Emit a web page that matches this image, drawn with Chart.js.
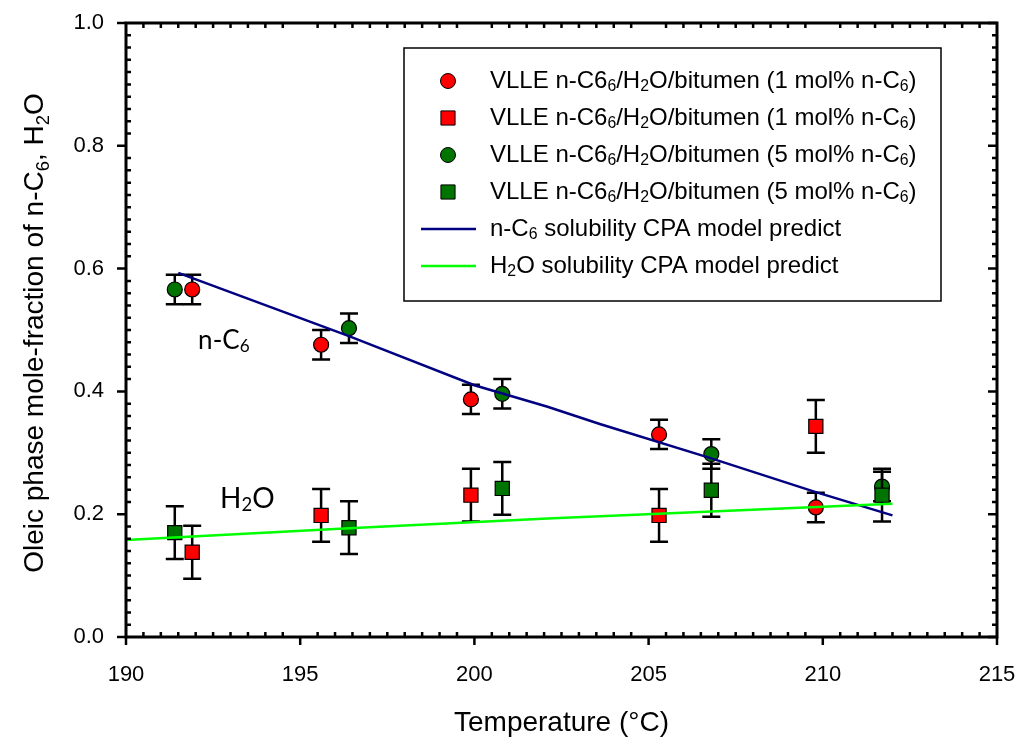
<!DOCTYPE html>
<html>
<head>
<meta charset="utf-8">
<script src="https://cdn.jsdelivr.net/npm/chart.js@4.4.1/dist/chart.umd.min.js"></script>
<style>
  html, body { margin: 0; padding: 0; background: #fff; }
  #wrap { width: 1018px; height: 742px; }
</style>
</head>
<body>
<div id="wrap"><canvas id="solChart" width="1018" height="742"></canvas></div>
<script>
// temperatures (°C) of the two runs
var tempRed = [191.9, 195.6, 199.9, 205.3, 209.8];
var tempGreen = [191.4, 196.4, 200.8, 206.8, 211.7];

// n-C6 mole fraction in the oleic phase
var hexRed = [0.566, 0.476, 0.387, 0.330, 0.211];
var hexRedErr = [0.024, 0.024, 0.024, 0.024, 0.024];
var hexGreen = [0.566, 0.503, 0.396, 0.298, 0.245];
var hexGreenErr = [0.024, 0.024, 0.024, 0.024, 0.024];

// H2O mole fraction in the oleic phase
var waterRed = [0.138, 0.198, 0.231, 0.198, 0.343];
var waterRedErr = [0.043, 0.043, 0.043, 0.043, 0.043];
var waterGreen = [0.170, 0.178, 0.242, 0.239, 0.231];
var waterGreenErr = [0.043, 0.043, 0.043, 0.043, 0.043];

// CPA model curves
var modelHexT = [191.5, 196.4, 200, 202.1, 203.6, 206.8, 209.8, 212];
var modelHex = [0.593, 0.490, 0.410, 0.375, 0.347, 0.291, 0.236, 0.198];
var modelWaterT = [190, 196.4, 202.1, 212];
var modelWater = [0.158, 0.177, 0.193, 0.217];

var xTicks = [190, 195, 200, 205, 210, 215];
var yTicks = [0, 0.2, 0.4, 0.6, 0.8, 1.0];

var FONT = '"Liberation Sans", Arial, sans-serif';
var NOTE_FONT = 'Lato, "Open Sans", sans-serif';
var RED = '#ff0000';
var GREEN = '#007400';

function pts(xs, ys) {
    return xs.map(function (x, i) { return { x: x, y: ys[i] }; });
}

// text with subscripts: [text, isSub]
function richWidth(ctx, segs, size, family) {
    var w = 0;
    segs.forEach(function (s) {
        ctx.font = (s[1] ? size * 0.66 : size) + 'px ' + family;
        w += ctx.measureText(s[0]).width;
    });
    return w;
}
function drawRich(ctx, segs, x, y, size, family) {
    var cx = x;
    segs.forEach(function (s) {
        var fs = s[1] ? size * 0.66 : size;
        ctx.font = fs + 'px ' + family;
        ctx.fillText(s[0], cx, s[1] ? y + size * 0.22 : y);
        cx += ctx.measureText(s[0]).width;
    });
}

function vlle(pct) {
    return [['VLLE n-C6', 0], ['6', 1], ['/H', 0], ['2', 1], ['O/bitumen (' + pct + ' mol% n-C', 0], ['6', 1], [')', 0]];
}

var errorBars = {
    id: 'errorBars',
    beforeDatasetDraw: function (chart, args) {
        var ds = chart.data.datasets[args.index];
        if (!ds.errors) return;
        var ctx = chart.ctx, xs = chart.scales.x, ys = chart.scales.y;
        ctx.save();
        ctx.strokeStyle = '#000';
        ctx.lineWidth = 2.5;
        ds.data.forEach(function (p, i) {
            var px = xs.getPixelForValue(p.x);
            var top = ys.getPixelForValue(p.y + ds.errors[i]);
            var bot = ys.getPixelForValue(p.y - ds.errors[i]);
            ctx.beginPath();
            ctx.moveTo(px, top); ctx.lineTo(px, bot);
            ctx.moveTo(px - 9, top); ctx.lineTo(px + 9, top);
            ctx.moveTo(px - 9, bot); ctx.lineTo(px + 9, bot);
            ctx.stroke();
        });
        ctx.restore();
    }
};

var frameTicks = {
    id: 'frameTicks',
    afterDraw: function (chart) {
        var ctx = chart.ctx, a = chart.chartArea, xs = chart.scales.x, ys = chart.scales.y;
        ctx.save();
        ctx.strokeStyle = '#000';
        ctx.lineWidth = 2.5;
        ctx.beginPath();
        // x: minor every 0.5, major every 5
        for (var i = 0; i <= 50; i++) {
            var px = xs.getPixelForValue(xs.min + i * 0.5);
            if (i % 10 === 0) {
                ctx.moveTo(px, a.bottom); ctx.lineTo(px, a.bottom + 8);
            } else {
                ctx.moveTo(px, a.bottom); ctx.lineTo(px, a.bottom - 5);
                ctx.moveTo(px, a.top); ctx.lineTo(px, a.top + 5);
            }
        }
        // y: minor every 0.02, major every 0.2
        for (var j = 0; j <= 50; j++) {
            var py = ys.getPixelForValue(ys.min + j * 0.02);
            if (j % 10 === 0) {
                ctx.moveTo(a.left, py); ctx.lineTo(a.left - 9, py);
                ctx.moveTo(a.right, py); ctx.lineTo(a.right - 9, py);
            } else {
                ctx.moveTo(a.left, py); ctx.lineTo(a.left + 5, py);
                ctx.moveTo(a.right, py); ctx.lineTo(a.right - 5, py);
            }
        }
        ctx.stroke();
        ctx.lineWidth = 3;
        ctx.strokeRect(a.left, a.top, a.right - a.left, a.bottom - a.top);

        // axis titles
        ctx.fillStyle = '#000';
        ctx.textBaseline = 'alphabetic';
        ctx.textAlign = 'left';
        var xt = [['Temperature (°C)', 0]];
        var w = richWidth(ctx, xt, 28, FONT);
        drawRich(ctx, xt, (a.left + a.right) / 2 - w / 2, 731, 28, FONT);

        var yt = [['Oleic phase mole-fraction of n-C', 0], ['6', 1], [', H', 0], ['2', 1], ['O', 0]];
        var wy = richWidth(ctx, yt, 28, FONT);
        ctx.translate(43, (a.top + a.bottom) / 2 + 3);
        ctx.rotate(-Math.PI / 2);
        drawRich(ctx, yt, -wy / 2, 0, 28, FONT);
        ctx.restore();
    }
};

var curveLabels = {
    id: 'curveLabels',
    afterDatasetsDraw: function (chart) {
        var ctx = chart.ctx, xs = chart.scales.x, ys = chart.scales.y;
        ctx.save();
        ctx.fillStyle = '#000';
        ctx.textBaseline = 'middle';
        ctx.textAlign = 'left';
        drawRich(ctx, [['n-C', 0], ['6', 1]], xs.getPixelForValue(192.07), ys.getPixelForValue(0.482), 26, NOTE_FONT);
        drawRich(ctx, [['H', 0], ['2', 1], ['O', 0]], xs.getPixelForValue(192.7), ys.getPixelForValue(0.225), 28, NOTE_FONT);
        ctx.restore();
    }
};

var boxLegend = {
    id: 'boxLegend',
    afterDraw: function (chart) {
        var ctx = chart.ctx, a = chart.chartArea;
        var left = a.left + 278, top = a.top + 25, w = 537, h = 253;
        ctx.save();
        ctx.fillStyle = '#fff';
        ctx.fillRect(left, top, w, h);
        ctx.strokeStyle = '#000';
        ctx.lineWidth = 1.5;
        ctx.strokeRect(left, top, w, h);
        ctx.textBaseline = 'middle';
        ctx.textAlign = 'left';
        chart.data.datasets.forEach(function (ds, i) {
            var y = top + 33 + i * 37;
            if (ds.showLine) {
                ctx.strokeStyle = ds.borderColor;
                ctx.lineWidth = ds.borderWidth;
                ctx.beginPath();
                ctx.moveTo(left + 17, y); ctx.lineTo(left + 72, y);
                ctx.stroke();
            } else {
                ctx.fillStyle = ds.backgroundColor;
                ctx.strokeStyle = '#000';
                ctx.lineWidth = 1;
                Chart.helpers.drawPoint(ctx, { pointStyle: ds.pointStyle, radius: ds.pointRadius, rotation: 0, borderWidth: 1 }, left + 44, y);
            }
            ctx.fillStyle = '#000';
            drawRich(ctx, ds.legendText, left + 86, y, 24, FONT);
        });
        ctx.restore();
    }
};

var ctx = document.getElementById('solChart').getContext('2d');
var solChart = new Chart(ctx, {
    type: 'scatter',
    data: {
        datasets: [{
            label: 'VLLE n-C6/H2O/bitumen (1 mol% n-C6)',
            legendText: vlle(1),
            data: pts(tempRed, hexRed),
            errors: hexRedErr,
            pointStyle: 'circle',
            pointRadius: 7.5,
            backgroundColor: RED,
            borderColor: '#000',
            borderWidth: 1.2,
            order: 5
        }, {
            label: 'VLLE n-C6/H2O/bitumen (1 mol% n-C6)',
            legendText: vlle(1),
            data: pts(tempRed, waterRed),
            errors: waterRedErr,
            pointStyle: 'rect',
            pointRadius: 10,
            backgroundColor: RED,
            borderColor: '#000',
            borderWidth: 1.2,
            order: 4
        }, {
            label: 'VLLE n-C6/H2O/bitumen (5 mol% n-C6)',
            legendText: vlle(5),
            data: pts(tempGreen, hexGreen),
            errors: hexGreenErr,
            pointStyle: 'circle',
            pointRadius: 7.5,
            backgroundColor: GREEN,
            borderColor: '#000',
            borderWidth: 1.2,
            order: 3
        }, {
            label: 'VLLE n-C6/H2O/bitumen (5 mol% n-C6)',
            legendText: vlle(5),
            data: pts(tempGreen, waterGreen),
            errors: waterGreenErr,
            pointStyle: 'rect',
            pointRadius: 10,
            backgroundColor: GREEN,
            borderColor: '#000',
            borderWidth: 1.2,
            order: 2
        }, {
            label: 'n-C6 solubility CPA model predict',
            legendText: [['n-C', 0], ['6', 1], [' solubility CPA model predict', 0]],
            data: pts(modelHexT, modelHex),
            showLine: true,
            pointRadius: 0,
            borderColor: '#000080',
            borderWidth: 2.5,
            order: 1
        }, {
            label: 'H2O solubility CPA model predict',
            legendText: [['H', 0], ['2', 1], ['O solubility CPA model predict', 0]],
            data: pts(modelWaterT, modelWater),
            showLine: true,
            pointRadius: 0,
            borderColor: '#00ff00',
            borderWidth: 2.5,
            order: 0
        }]
    },
    options: {
        responsive: false,
        animation: false,
        layout: { padding: { top: 23, right: 21, left: 0, bottom: 0 } },
        plugins: {
            legend: { display: false },
            tooltip: { enabled: false }
        },
        scales: {
            x: {
                type: 'linear',
                min: 190,
                max: 215,
                afterBuildTicks: function (s) { s.ticks = xTicks.map(function (v) { return { value: v }; }); },
                afterFit: function (s) { s.height = 105; s.paddingLeft = 0; s.paddingRight = 0; },
                grid: { display: false, drawTicks: false },
                border: { display: false },
                ticks: {
                    padding: 25,
                    color: '#000',
                    font: { family: FONT, size: 22 },
                    callback: function (v) { return String(v); }
                }
            },
            y: {
                type: 'linear',
                min: 0,
                max: 1,
                afterBuildTicks: function (s) { s.ticks = yTicks.map(function (v) { return { value: v }; }); },
                afterFit: function (s) { s.width = 126; s.paddingTop = 0; s.paddingBottom = 0; },
                grid: { display: false, drawTicks: false },
                border: { display: false },
                ticks: {
                    padding: 22,
                    color: '#000',
                    font: { family: FONT, size: 22 },
                    callback: function (v) { return v.toFixed(1); }
                }
            }
        }
    },
    plugins: [errorBars, curveLabels, frameTicks, boxLegend]
});
</script>
</body>
</html>
